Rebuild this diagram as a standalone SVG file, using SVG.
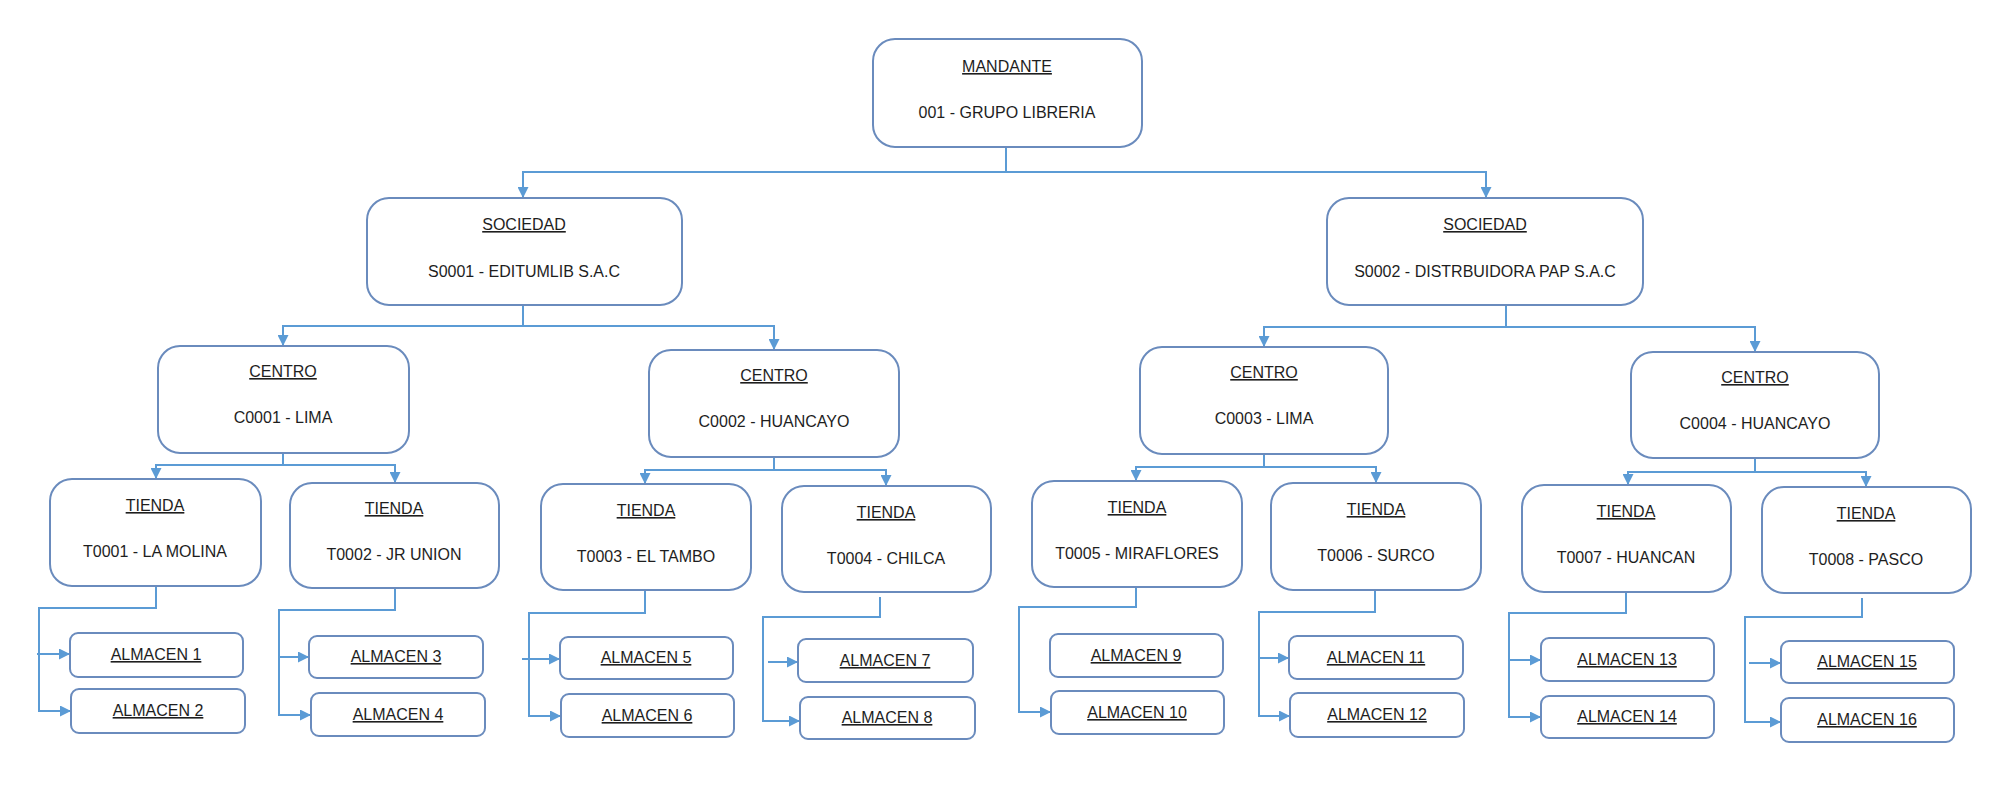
<svg xmlns="http://www.w3.org/2000/svg" width="2010" height="802" viewBox="0 0 2010 802">
<style>
.box{fill:#ffffff;stroke:#6a8bbd;stroke-width:2}
.t{font-family:"Liberation Sans",Arial,sans-serif;font-size:16px;fill:#1e1e1e;text-anchor:middle}
.u{text-decoration:underline}
.c{fill:none;stroke:#5b9bd5;stroke-width:2}
.a{marker-end:url(#ah)}
</style>
<defs>
<marker id="ah" viewBox="0 0 10 10" refX="10" refY="5" markerWidth="11" markerHeight="11" markerUnits="userSpaceOnUse" orient="auto">
<path d="M0,0 L10,5 L0,10 z" fill="#5b9bd5"/>
</marker>
</defs>
<rect width="2010" height="802" fill="#ffffff"/>
<g id="connectors">
<path class="c" d="M1006,147 V172"/>
<path class="c a" d="M1006,172 H523 V198"/>
<path class="c a" d="M1006,172 H1486 V198"/>
<path class="c" d="M523,305 V326"/>
<path class="c a" d="M523,326 H283 V346"/>
<path class="c a" d="M523,326 H774 V350"/>
<path class="c" d="M1506,305 V327"/>
<path class="c a" d="M1506,327 H1264 V347"/>
<path class="c a" d="M1506,327 H1755 V352"/>
<path class="c" d="M283,453 V465"/>
<path class="c a" d="M283,465 H156 V479"/>
<path class="c a" d="M283,465 H395 V483"/>
<path class="c" d="M774,457 V470"/>
<path class="c a" d="M774,470 H645 V484"/>
<path class="c a" d="M774,470 H886 V486"/>
<path class="c" d="M1264,453 V467"/>
<path class="c a" d="M1264,467 H1136 V481"/>
<path class="c a" d="M1264,467 H1376 V483"/>
<path class="c" d="M1755,458 V472"/>
<path class="c a" d="M1755,472 H1628 V485"/>
<path class="c a" d="M1755,472 H1866 V487"/>
<path class="c a" d="M156,586 V608 H39 V711 H71"/>
<path class="c a" d="M37,654 H70"/>
<path class="c a" d="M395,588 V610 H279 V715 H311"/>
<path class="c a" d="M279,657 H309"/>
<path class="c a" d="M645,590 V613 H529 V716 H561"/>
<path class="c a" d="M522,659 H560"/>
<path class="c a" d="M880,597 V617 H763 V721 H800"/>
<path class="c a" d="M768,662 H798"/>
<path class="c a" d="M1136,587 V607 H1019 V712 H1051"/>
<path class="c a" d="M1375,590 V612 H1259 V716 H1290"/>
<path class="c a" d="M1259,658 H1289"/>
<path class="c a" d="M1626,592 V613 H1509 V717 H1541"/>
<path class="c a" d="M1509,660 H1541"/>
<path class="c a" d="M1862,598 V617 H1745 V722 H1781"/>
<path class="c a" d="M1749,663 H1781"/>
</g>
<g id="mandante">
<rect class="box" x="873" y="39" width="269" height="108" rx="22"/>
<text class="t u" x="1007" y="72">MANDANTE</text>
<text class="t" x="1007" y="118">001 - GRUPO LIBRERIA</text>
</g>
<g id="sociedad1">
<rect class="box" x="367" y="198" width="315" height="107" rx="22"/>
<text class="t u" x="524" y="230">SOCIEDAD</text>
<text class="t" x="524" y="277">S0001 - EDITUMLIB S.A.C</text>
</g>
<g id="sociedad2">
<rect class="box" x="1327" y="198" width="316" height="107" rx="22"/>
<text class="t u" x="1485" y="230">SOCIEDAD</text>
<text class="t" x="1485" y="277">S0002 - DISTRBUIDORA PAP S.A.C</text>
</g>
<g id="centro1">
<rect class="box" x="158" y="346" width="251" height="107" rx="22"/>
<text class="t u" x="283" y="377">CENTRO</text>
<text class="t" x="283" y="423">C0001 - LIMA</text>
</g>
<g id="centro2">
<rect class="box" x="649" y="350" width="250" height="107" rx="22"/>
<text class="t u" x="774" y="381">CENTRO</text>
<text class="t" x="774" y="427">C0002 - HUANCAYO</text>
</g>
<g id="centro3">
<rect class="box" x="1140" y="347" width="248" height="107" rx="22"/>
<text class="t u" x="1264" y="378">CENTRO</text>
<text class="t" x="1264" y="424">C0003 - LIMA</text>
</g>
<g id="centro4">
<rect class="box" x="1631" y="352" width="248" height="106" rx="22"/>
<text class="t u" x="1755" y="383">CENTRO</text>
<text class="t" x="1755" y="429">C0004 - HUANCAYO</text>
</g>
<g id="tienda1">
<rect class="box" x="50" y="479" width="211" height="107" rx="22"/>
<text class="t u" x="155" y="511">TIENDA</text>
<text class="t" x="155" y="557">T0001 - LA MOLINA</text>
</g>
<g id="tienda2">
<rect class="box" x="290" y="483" width="209" height="105" rx="22"/>
<text class="t u" x="394" y="514">TIENDA</text>
<text class="t" x="394" y="560">T0002 - JR UNION</text>
</g>
<g id="tienda3">
<rect class="box" x="541" y="484" width="210" height="106" rx="22"/>
<text class="t u" x="646" y="516">TIENDA</text>
<text class="t" x="646" y="562">T0003 - EL TAMBO</text>
</g>
<g id="tienda4">
<rect class="box" x="782" y="486" width="209" height="106" rx="22"/>
<text class="t u" x="886" y="518">TIENDA</text>
<text class="t" x="886" y="564">T0004 - CHILCA</text>
</g>
<g id="tienda5">
<rect class="box" x="1032" y="481" width="210" height="106" rx="22"/>
<text class="t u" x="1137" y="513">TIENDA</text>
<text class="t" x="1137" y="559">T0005 - MIRAFLORES</text>
</g>
<g id="tienda6">
<rect class="box" x="1271" y="483" width="210" height="107" rx="22"/>
<text class="t u" x="1376" y="515">TIENDA</text>
<text class="t" x="1376" y="561">T0006 - SURCO</text>
</g>
<g id="tienda7">
<rect class="box" x="1522" y="485" width="209" height="107" rx="22"/>
<text class="t u" x="1626" y="517">TIENDA</text>
<text class="t" x="1626" y="563">T0007 - HUANCAN</text>
</g>
<g id="tienda8">
<rect class="box" x="1762" y="487" width="209" height="106" rx="22"/>
<text class="t u" x="1866" y="519">TIENDA</text>
<text class="t" x="1866" y="565">T0008 - PASCO</text>
</g>
<g id="almacen1"><rect class="box" x="70" y="633" width="173" height="44" rx="8"/><text class="t u" x="156" y="660">ALMACEN 1</text></g>
<g id="almacen2"><rect class="box" x="71" y="689" width="174" height="44" rx="8"/><text class="t u" x="158" y="716">ALMACEN 2</text></g>
<g id="almacen3"><rect class="box" x="309" y="636" width="174" height="42" rx="8"/><text class="t u" x="396" y="662">ALMACEN 3</text></g>
<g id="almacen4"><rect class="box" x="311" y="693" width="174" height="43" rx="8"/><text class="t u" x="398" y="720">ALMACEN 4</text></g>
<g id="almacen5"><rect class="box" x="560" y="637" width="173" height="42" rx="8"/><text class="t u" x="646" y="663">ALMACEN 5</text></g>
<g id="almacen6"><rect class="box" x="561" y="694" width="173" height="43" rx="8"/><text class="t u" x="647" y="721">ALMACEN 6</text></g>
<g id="almacen7"><rect class="box" x="798" y="639" width="175" height="43" rx="8"/><text class="t u" x="885" y="666">ALMACEN 7</text></g>
<g id="almacen8"><rect class="box" x="800" y="697" width="175" height="42" rx="8"/><text class="t u" x="887" y="723">ALMACEN 8</text></g>
<g id="almacen9"><rect class="box" x="1050" y="634" width="173" height="43" rx="8"/><text class="t u" x="1136" y="661">ALMACEN 9</text></g>
<g id="almacen10"><rect class="box" x="1051" y="691" width="173" height="43" rx="8"/><text class="t u" x="1137" y="718">ALMACEN 10</text></g>
<g id="almacen11"><rect class="box" x="1289" y="636" width="174" height="43" rx="8"/><text class="t u" x="1376" y="663">ALMACEN 11</text></g>
<g id="almacen12"><rect class="box" x="1290" y="693" width="174" height="44" rx="8"/><text class="t u" x="1377" y="720">ALMACEN 12</text></g>
<g id="almacen13"><rect class="box" x="1541" y="638" width="173" height="43" rx="8"/><text class="t u" x="1627" y="665">ALMACEN 13</text></g>
<g id="almacen14"><rect class="box" x="1541" y="696" width="173" height="42" rx="8"/><text class="t u" x="1627" y="722">ALMACEN 14</text></g>
<g id="almacen15"><rect class="box" x="1781" y="641" width="173" height="42" rx="8"/><text class="t u" x="1867" y="667">ALMACEN 15</text></g>
<g id="almacen16"><rect class="box" x="1781" y="698" width="173" height="44" rx="8"/><text class="t u" x="1867" y="725">ALMACEN 16</text></g>
</svg>
